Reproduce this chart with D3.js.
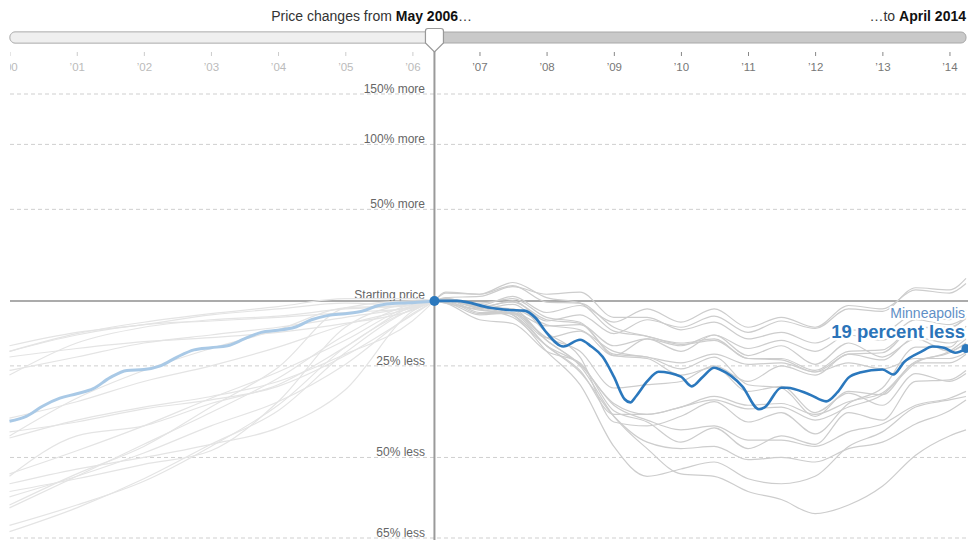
<!DOCTYPE html>
<html><head><meta charset="utf-8">
<script src="https://cdn.jsdelivr.net/npm/d3@7"></script>
<style>
body{margin:0;background:#fff;}
svg{display:block;font-family:"Liberation Sans",Arial,Helvetica,sans-serif;}
</style></head><body>
<svg id="chart" width="968" height="540"></svg>
<script>
// ---------- data (percent change vs. May 2006) ----------
const startDate = "2006-05";
const endDate = "2014-04";
const startText = "May 2006";
const endText = "April 2014";
const highlightCity = "Minneapolis";
const highlightLabel = "19 percent less";
const yearTicks = ["2000","2001","2002","2003","2004","2005","2006","2007","2008","2009","2010","2011","2012","2013","2014"];
const gridLevels = [150, 100, 50, -25, -50, -65];
const gridLabels = ["150% more","100% more","50% more","25% less","50% less","65% less"];
const baselineLabel = "Starting price";

const leftDates = ["2000-01","2001-01","2002-01","2003-01","2004-01","2005-01","2006-01","2006-05"];
const rightDates = ["2006-05","2006-07","2007-01","2007-07","2008-01","2008-07","2009-01","2009-07","2010-01","2010-07","2011-01","2011-07","2012-01","2012-07","2013-01","2013-07","2014-01","2014-04"];

const atlantaLeft = [-26.5,-22,-17,-14,-11,-7,-2.5,0];
const atlantaRight = [0,0.7,-1,1,-7,-9,-21,-22,-26,-22,-31,-32,-40,-33,-34,-24,-24,-21];
const bostonLeft = [-45,-35,-26.5,-19,-12,-3,-2,0];
const bostonRight = [0,-0.5,-6,-5,-10.5,-10,-18,-15.5,-18,-14,-19,-16,-20,-14,-16,-8,-10,-7];
const charlotteLeft = [-22,-19,-16.5,-15,-13,-9.5,-4,0];
const charlotteRight = [0,1.5,2,6.5,3,4,-7,-7,-12,-9,-15.5,-13,-17,-12,-13,-5.5,-8,-4];
const chicagoLeft = [-40.5,-36,-30,-25,-18.5,-10,-3,0];
const chicagoRight = [0,0.5,-2.5,-0.5,-8,-9.5,-21.5,-22.5,-28,-25.5,-33,-31.5,-39,-33.5,-37,-27.5,-30,-27.5];
const clevelandLeft = [-18,-13,-10,-6,-3.5,-1,-2,0];
const clevelandRight = [0,1,-5,-5,-15,-12.5,-21.5,-15.5,-20,-14,-21.5,-18,-24.5,-17,-22,-15.5,-20,-17];
const dallasLeft = [-20,-14,-10,-8.5,-7,-5,-3,0];
const dallasRight = [0,1,-2,2,-5,-2,-9,-3.5,-9,-3.5,-11,-7,-11,-2,-3.5,5,3.5,8];
const denverLeft = [-28,-17,-11,-8,-6.5,-3.5,-2,0];
const denverRight = [0,0.5,-3,0,-8.5,-6,-13.5,-8,-11,-6.5,-13,-8.5,-11.5,-3.5,-4.5,6,5,10.5];
const detroitLeft = [-20,-13.5,-9,-5.5,-2.5,1,1,0];
const detroitRight = [0,-1,-8,-9.5,-20,-24,-38.5,-41.5,-46.5,-43,-48,-45,-47,-39,-41,-30,-29.5,-26.5];
const lasVegasLeft = [-57,-54.5,-51.5,-48.5,-36,-11,-1,0];
const lasVegasRight = [0,0,-2.5,-4,-16,-25,-40,-48,-53.5,-54,-57,-58.5,-61,-59.5,-56,-49.5,-45,-43.5];
const losAngelesLeft = [-63,-59.5,-55,-47.5,-37,-18.5,-3.5,0];
const losAngelesRight = [0,0,-2.5,-3.5,-16,-24.5,-36.5,-39.5,-37.5,-35.5,-38,-37.5,-41,-37.5,-34,-24,-20,-15.5];
const miamiLeft = [-64,-60,-54.5,-47,-38.5,-20.5,-3.5,0];
const miamiRight = [0,0,-3,-6,-18,-27,-40,-46.5,-48,-47.5,-50.5,-50,-51,-48,-46.5,-42,-38.5,-35.5];
const newYorkLeft = [-53.5,-48.5,-42.5,-35,-27,-16,-2,0];
const newYorkRight = [0,0.5,-3,-3.5,-10,-12,-20,-22,-24,-21,-24.5,-24,-27,-24,-26,-22.5,-22.5,-20.5];
const phoenixLeft = [-55.5,-52.5,-50,-47,-43,-32.5,-4.5,0];
const phoenixRight = [0,1,-2,-6,-20,-31,-47.5,-54,-52.5,-51,-54.5,-55.5,-54,-47.5,-44,-37.5,-35.5,-34.5];
const portlandLeft = [-44,-41.5,-38,-35.5,-31.5,-21.5,-6,0];
const portlandRight = [0,3.5,3,7,-0.5,-1,-11,-14.5,-17,-15.5,-22.5,-22.5,-26.5,-20,-19.5,-11,-11,-7.5];
const sanDiegoLeft = [-59.5,-53.5,-47.5,-37.5,-25.5,-3,0,0];
const sanDiegoRight = [0,-1,-4,-5.5,-18,-26.5,-39.5,-39.5,-37.5,-34.5,-37,-36.5,-39.5,-36,-33.5,-23.5,-20.5,-17];
const sanFranciscoLeft = [-54,-45,-42.5,-36.5,-31,-18.5,-2.5,0];
const sanFranciscoRight = [0,-0.5,-3.5,-1.5,-13,-22,-41.5,-42.5,-40,-36,-41.5,-39,-44.5,-36.5,-32,-18.5,-18.5,-10.5];
const seattleLeft = [-45.5,-41,-37.5,-34.5,-30,-21,-8.5,0];
const seattleRight = [0,4,3,8.5,1.5,-1,-12.5,-14.5,-17.5,-16,-22.5,-23,-27,-21,-20.5,-11,-11.5,-6.5];
const tampaLeft = [-58,-54,-49,-42.5,-36,-24.5,-5.5,0];
const tampaRight = [0,0,-3.5,-7,-18,-24.5,-37,-41,-43.5,-42.5,-46,-46,-47.5,-44,-42,-37,-35,-33];
const washingtonLeft = [-60,-54,-47,-39,-29,-14,-1.5,0];
const washingtonRight = [0,0,-5.5,-5.5,-15,-20,-32,-31,-30,-25,-30,-25,-28,-21,-23,-15,-17,-15];

const minneapolisLeftDates = ["2000-01","2000-04","2000-07","2000-10","2001-01","2001-04","2001-07","2001-10","2002-01","2002-04","2002-07","2002-10","2003-01","2003-04","2003-07","2003-10","2004-01","2004-04","2004-07","2004-10","2005-01","2005-04","2005-07","2005-10","2006-01","2006-04","2006-05"];
const minneapolisLeft = [-41.3,-40,-37.2,-35,-33.7,-32.2,-28.8,-26.5,-26.2,-25,-22,-19.5,-18.7,-18,-15.5,-13,-12.2,-11,-8,-6.2,-5.5,-4.5,-2,-1,-0.8,-0.3,0];
const minneapolisRightDates = ["2006-05","2006-09","2007-03","2007-06","2007-09","2007-11","2008-01","2008-04","2008-07","2008-09","2008-11","2009-01","2009-03","2009-04","2009-05","2009-07","2009-09","2010-01","2010-03","2010-05","2010-07","2010-08","2010-12","2011-03","2011-04","2011-07","2011-08","2011-12","2012-03","2012-05","2012-07","2012-09","2013-01","2013-03","2013-05","2013-08","2013-10","2013-12","2014-02","2014-04"];
const minneapolisRight = [0,0,-3,-3.9,-4.2,-7.2,-13.1,-18.3,-15.8,-18.3,-21.9,-28.5,-35.3,-36.2,-34.5,-30,-26.9,-28.5,-31.5,-28.5,-25.6,-26.2,-31.5,-38.1,-37.6,-31.9,-31.9,-33.9,-35.9,-33.3,-28.8,-27.2,-26.2,-27.8,-23.6,-20.1,-18.3,-18.7,-20.5,-19];

const grayLeft = [atlantaLeft,bostonLeft,charlotteLeft,chicagoLeft,clevelandLeft,dallasLeft,denverLeft,detroitLeft,lasVegasLeft,losAngelesLeft,miamiLeft,newYorkLeft,phoenixLeft,portlandLeft,sanDiegoLeft,sanFranciscoLeft,seattleLeft,tampaLeft,washingtonLeft];
const grayRight = [atlantaRight,bostonRight,charlotteRight,chicagoRight,clevelandRight,dallasRight,denverRight,detroitRight,lasVegasRight,losAngelesRight,miamiRight,newYorkRight,phoenixRight,portlandRight,sanDiegoRight,sanFranciscoRight,seattleRight,tampaRight,washingtonRight];

// ---------- drawing ----------
const W = 968, H = 540;
const svg = d3.select("#chart");
const parse = d3.timeParse("%Y-%m");
const x = d3.scaleTime().domain([parse("2000-01"), parse(endDate)]).range([9.5, 966]);
const y = d3.scaleLog().domain([0.35, 2.5]).range([538, 94]);
const r = p => 1 + p / 100;
const startD = parse(startDate), endD = parse(endDate);
const xs = x(startD);

const zip = (dates, vals) => dates.map((d, i) => ({date: parse(d), v: vals[i]}));
const line = d3.line().x(d => x(d.date)).y(d => y(r(d.v))).curve(d3.curveMonotoneX);

// title
const title = svg.append("text").attr("x", 472).attr("y", 21).attr("text-anchor", "end")
  .attr("font-size", 14).attr("fill", "#333");
title.append("tspan").text("Price changes from ");
title.append("tspan").attr("font-weight", "bold").attr("fill", "#111").text(startText);
title.append("tspan").text("\u2026");
const title2 = svg.append("text").attr("x", 966).attr("y", 21).attr("text-anchor", "end")
  .attr("font-size", 14).attr("fill", "#333");
title2.append("tspan").text("\u2026to ");
title2.append("tspan").attr("font-weight", "bold").attr("fill", "#111").text(endText);

// slider track
svg.append("rect").attr("x", 10).attr("y", 32).attr("width", 956).attr("height", 11).attr("rx", 5)
  .attr("fill", "#c9c9c9").attr("stroke", "#a8a8a8").attr("stroke-width", 1);
svg.append("rect").attr("x", 10).attr("y", 32).attr("width", xs - 10 + 6).attr("height", 11).attr("rx", 5)
  .attr("fill", "#efefef").attr("stroke", "#bdbdbd").attr("stroke-width", 1);

// clip for the axis (local coordinates of the axis group)
svg.append("clipPath").attr("id", "axclip").append("rect").attr("x", 10).attr("y", -10).attr("width", 960).attr("height", 40);

// x axis
const axis = d3.axisBottom(x).tickValues(yearTicks.map(s => parse(s + "-01")))
  .tickSize(4).tickPadding(7).tickFormat(d => "\u2019" + d3.timeFormat("%y")(d));
const gAxis = svg.append("g").attr("transform", "translate(0,52)").attr("clip-path", "url(#axclip)").call(axis);
gAxis.attr("font-family", null).attr("font-size", 11.5);
gAxis.select(".domain").remove();
gAxis.selectAll(".tick text").attr("fill", d => d < startD ? "#bbb" : "#777");
gAxis.selectAll(".tick line").attr("stroke", d => d < startD ? "#ccc" : "#888");

// grid lines
const grid = svg.append("g");
gridLevels.forEach((g, i) => {
  const yy = y(r(g));
  grid.append("line").attr("x1", 10).attr("x2", W).attr("y1", yy).attr("y2", yy)
    .attr("stroke", "#cfcfcf").attr("stroke-dasharray", "4,3").attr("stroke-width", 1);
  grid.append("text").attr("x", 425).attr("y", yy - 1).attr("text-anchor", "end")
    .attr("font-size", 12).attr("fill", "#666").text(gridLabels[i]);
});

// baseline
svg.append("line").attr("x1", 10).attr("x2", W).attr("y1", y(1)).attr("y2", y(1))
  .attr("stroke", "#8f8f8f").attr("stroke-width", 1.5);
svg.append("text").attr("x", 425).attr("y", y(1) - 2).attr("text-anchor", "end")
  .attr("font-size", 12).attr("fill", "#666").text(baselineLabel);

// gray lines
const gl = svg.append("g").attr("fill", "none");
grayLeft.forEach(vals => {
  gl.append("path").attr("d", line(zip(leftDates, vals))).attr("stroke", "#e4e4e4").attr("stroke-width", 1.2);
});
grayRight.forEach(vals => {
  gl.append("path").attr("d", line(zip(rightDates, vals))).attr("stroke", "#cdcdcd").attr("stroke-width", 1.2);
});

// vertical marker line
svg.append("line").attr("x1", xs).attr("x2", xs).attr("y1", 50).attr("y2", H)
  .attr("stroke", "#9a9a9a").attr("stroke-width", 2);

// highlight
svg.append("path").attr("d", line(zip(minneapolisLeftDates, minneapolisLeft)))
  .attr("fill", "none").attr("stroke", "#a9c9e6").attr("stroke-width", 3);
const mRight = zip(minneapolisRightDates, minneapolisRight);
svg.append("path").attr("d", line(mRight))
  .attr("fill", "none").attr("stroke", "#2b78bd").attr("stroke-width", 2.6).attr("stroke-linejoin", "round");

// labels for highlight
const last = mRight[mRight.length - 1];
svg.append("text").attr("x", 965).attr("y", 318).attr("text-anchor", "end")
  .attr("font-size", 14).attr("fill", "#5f8fc6")
  .attr("stroke", "#fff").attr("stroke-width", 4).attr("paint-order", "stroke").attr("stroke-linejoin", "round")
  .text(highlightCity);
svg.append("text").attr("x", 965).attr("y", 338).attr("text-anchor", "end")
  .attr("font-size", 18.5).attr("font-weight", "bold").attr("fill", "#2b74b9")
  .attr("stroke", "#fff").attr("stroke-width", 5).attr("paint-order", "stroke").attr("stroke-linejoin", "round")
  .text(highlightLabel);

// dots
svg.append("circle").attr("cx", xs).attr("cy", y(1)).attr("r", 5).attr("fill", "#2b78bd");
svg.append("circle").attr("cx", x(last.date)).attr("cy", y(r(last.v))).attr("r", 4.5).attr("fill", "#2b78bd");

// slider handle
const hx = xs;
const handle = d3.path();
handle.moveTo(hx - 9, 31);
handle.quadraticCurveTo(hx - 9, 28.5, hx - 6.5, 28.5);
handle.lineTo(hx + 6.5, 28.5);
handle.quadraticCurveTo(hx + 9, 28.5, hx + 9, 31);
handle.lineTo(hx + 9, 43);
handle.lineTo(hx, 52);
handle.lineTo(hx - 9, 43);
handle.closePath();
svg.append("path").attr("d", handle.toString()).attr("fill", "#fff").attr("stroke", "#999").attr("stroke-width", 1.2);
</script>
</body></html>
